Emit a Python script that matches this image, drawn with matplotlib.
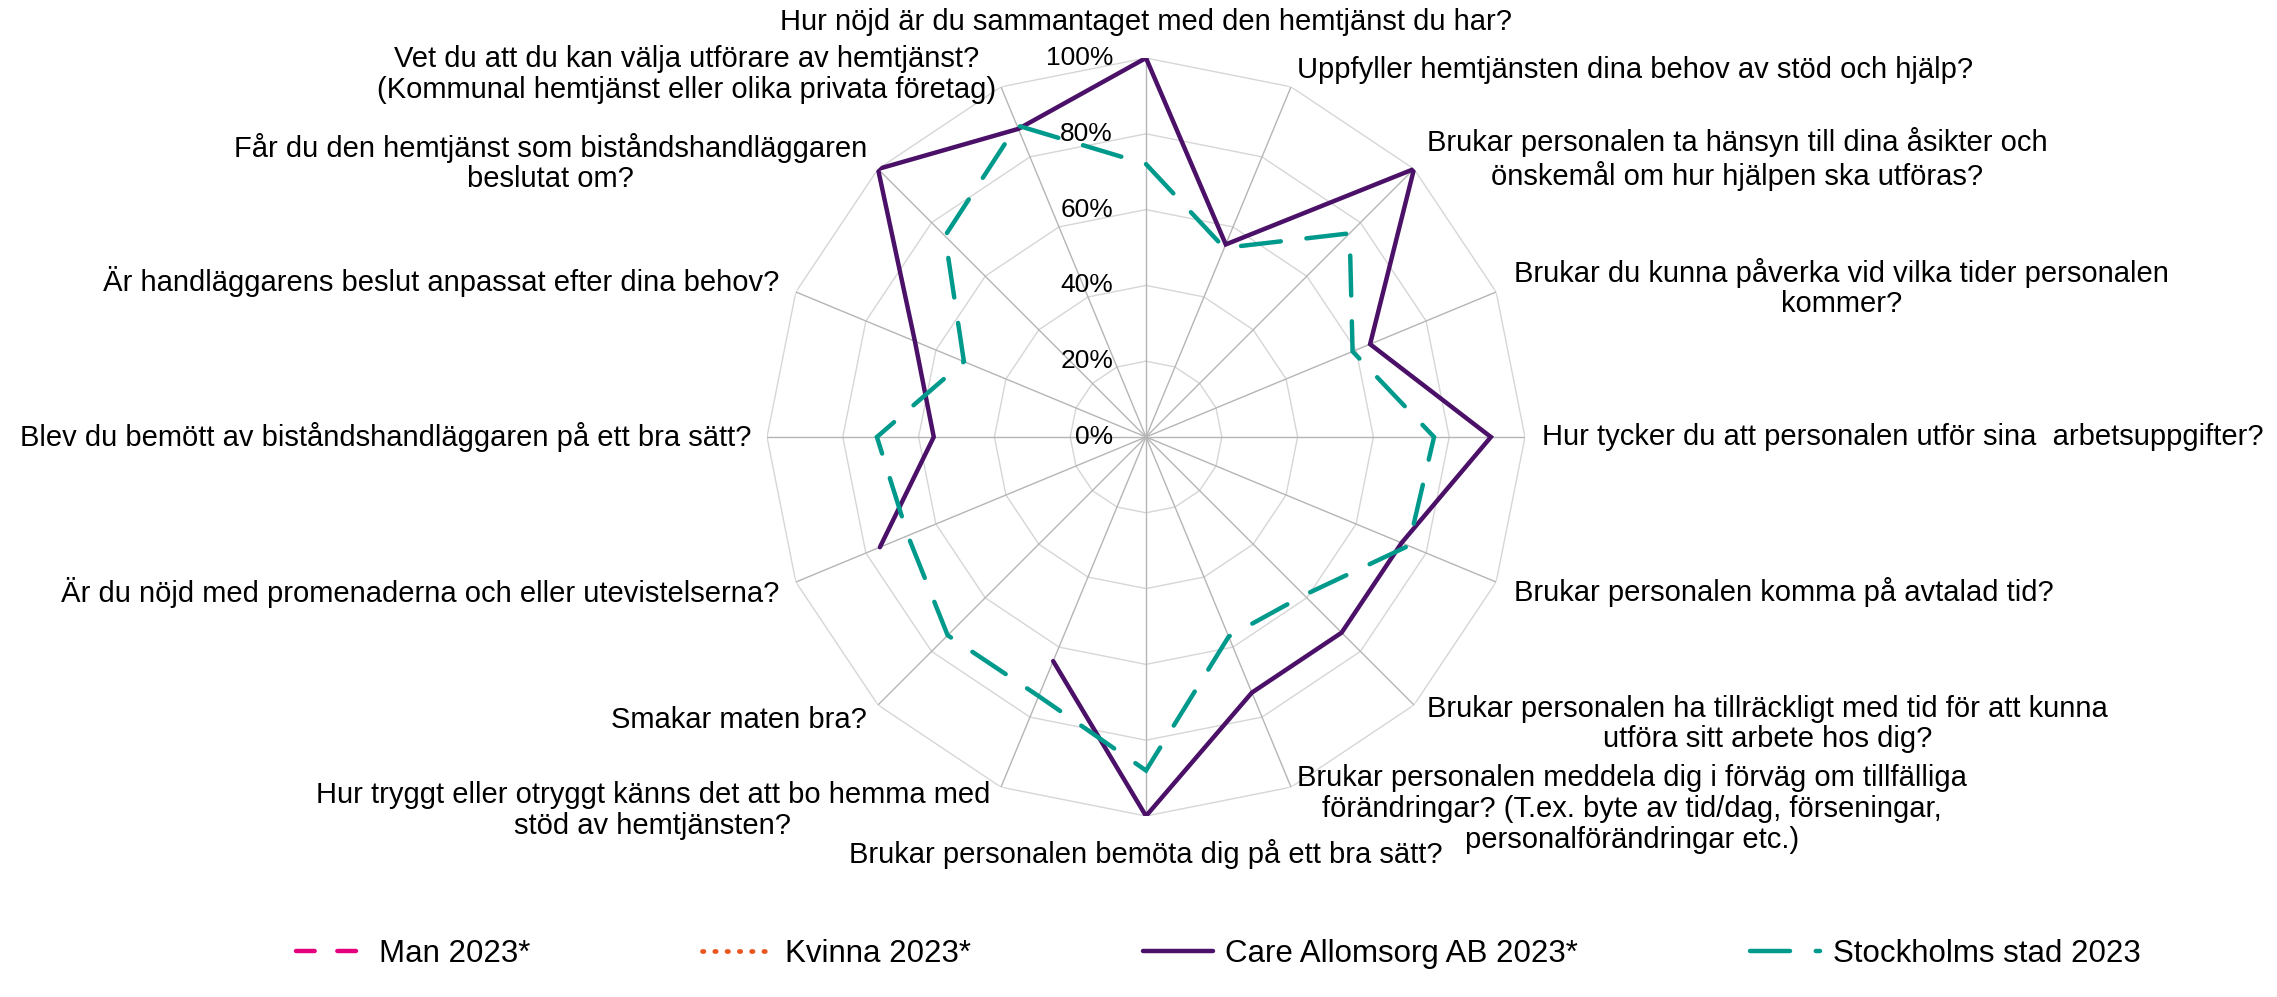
import numpy as np
import matplotlib
matplotlib.use("Agg")
import matplotlib.pyplot as plt

plt.rcParams['font.family'] = ['Liberation Sans', 'DejaVu Sans']

nan = np.nan
categories = [
    "Hur nöjd är du sammantaget med den hemtjänst du har?",
    "Uppfyller hemtjänsten dina behov av stöd och hjälp?",
    "Brukar personalen ta hänsyn till dina åsikter och\nönskemål om hur hjälpen ska utföras?",
    "Brukar du kunna påverka vid vilka tider personalen\nkommer?",
    "Hur tycker du att personalen utför sina  arbetsuppgifter?",
    "Brukar personalen komma på avtalad tid?",
    "Brukar personalen ha tillräckligt med tid för att kunna\nutföra sitt arbete hos dig?",
    "Brukar personalen meddela dig i förväg om tillfälliga\nförändringar? (T.ex. byte av tid/dag, förseningar,\npersonalförändringar etc.)",
    "Brukar personalen bemöta dig på ett bra sätt?",
    "Hur tryggt eller otryggt känns det att bo hemma med\nstöd av hemtjänsten?",
    "Smakar maten bra?",
    "Är du nöjd med promenaderna och eller utevistelserna?",
    "Blev du bemött av biståndshandläggaren på ett bra sätt?",
    "Är handläggarens beslut anpassat efter dina behov?",
    "Får du den hemtjänst som biståndshandläggaren\nbeslutat om?",
    "Vet du att du kan välja utförare av hemtjänst?\n(Kommunal hemtjänst eller olika privata företag)",
]
man_2023 = [nan] * 16
kvinna_2023 = [nan] * 16
care_allomsorg_2023 = [1.00, 0.55, 1.00, 0.64, 0.91, 0.73, 0.73, 0.73,
                       1.00, 0.64, nan, 0.76, 0.56, 0.66, 1.00, 0.88]
stockholm_2023 = [0.72, 0.54, 0.76, 0.59, 0.76, 0.75, 0.59, 0.57,
                  0.88, 0.74, 0.74, 0.68, 0.71, 0.52, 0.75, 0.89]
series_names = ["Man 2023*", "Kvinna 2023*", "Care Allomsorg AB 2023*", "Stockholms stad 2023"]
r_ticks = [0.0, 0.2, 0.4, 0.6, 0.8, 1.0]
r_tick_labels = ["0%", "20%", "40%", "60%", "80%", "100%"]

W, H = 2277, 997
fig = plt.figure(figsize=(W / 100, H / 100), dpi=100)
cx, cy, R = 1146, 437, 379
ax = fig.add_axes([(cx - R) / W, (H - cy - R) / H, 2 * R / W, 2 * R / H], projection='polar')
ax.set_theta_zero_location('N')
ax.set_theta_direction(-1)
ax.set_ylim(0, 1)
ax.set_axis_off()

n = len(categories)
theta = np.arange(n) * 2 * np.pi / n
theta_closed = np.append(theta, theta[0])

def closed(v):
    v = list(v)
    return v + [v[0]]

# grid rings (polygons) and spokes
for r in r_ticks[1:]:
    ax.plot(theta_closed, [r] * (n + 1), color='#D6D6D6', lw=1.0, zorder=1)
for t in theta:
    ax.plot([t, t], [0, 1], color='#B5B5B5', lw=1.0, zorder=1)

lw = 3.2
ax.plot(theta_closed, closed(man_2023), color='#E5007D', lw=lw,
        linestyle=(0, (4.2, 5.1)), dash_capstyle='round', label=series_names[0], zorder=3)
ax.plot(theta_closed, closed(kvinna_2023), color='#E8561E', lw=3.4,
        linestyle=(0, (0.3, 2.3)), dash_capstyle='round', label=series_names[1], zorder=3)
ax.plot(theta_closed, closed(care_allomsorg_2023), color='#4B1068', lw=lw,
        solid_joinstyle='miter', solid_capstyle='round', label=series_names[2], zorder=4)
ax.plot(theta_closed, closed(stockholm_2023), color='#009A8C', lw=lw,
        linestyle=(0, (9.0, 5.8)), dash_capstyle='round', dash_joinstyle='miter',
        label=series_names[3], zorder=5)

# radial tick labels
for r, lab in zip(r_ticks, r_tick_labels):
    ax.annotate(lab, xy=(0, r), xytext=(-33, 0), textcoords='offset pixels',
                ha='right', va='center', fontsize=19, color='black')

# category labels
label_offsets = [(0, 36), (6, 17), (13, 10), (18, 4), (17, 0), (18, -10), (13, -19), (6, -22),
                 (0, -38), (-11, -23), (-11, -15), (-16, -10), (-16, 0), (-16, 10), (-11, 6), (-5, 12)]
for k, (t, lab) in enumerate(zip(theta, categories)):
    s = np.sin(t)
    ha = 'left' if s > 0.01 else ('right' if s < -0.01 else 'center')
    ax.annotate(lab, xy=(t, 1.0), xytext=label_offsets[k], textcoords='offset pixels',
                ha=ha, va='center', multialignment='center', fontsize=21, linespacing=1.13,
                color='black', annotation_clip=False)

fig.legend(loc='center', bbox_to_anchor=(0.535, 1 - 954 / H), ncol=4, frameon=False,
           fontsize=22.5, handlelength=2.25, handletextpad=0.4, columnspacing=5.5)

fig.savefig("out.png", dpi=100)
